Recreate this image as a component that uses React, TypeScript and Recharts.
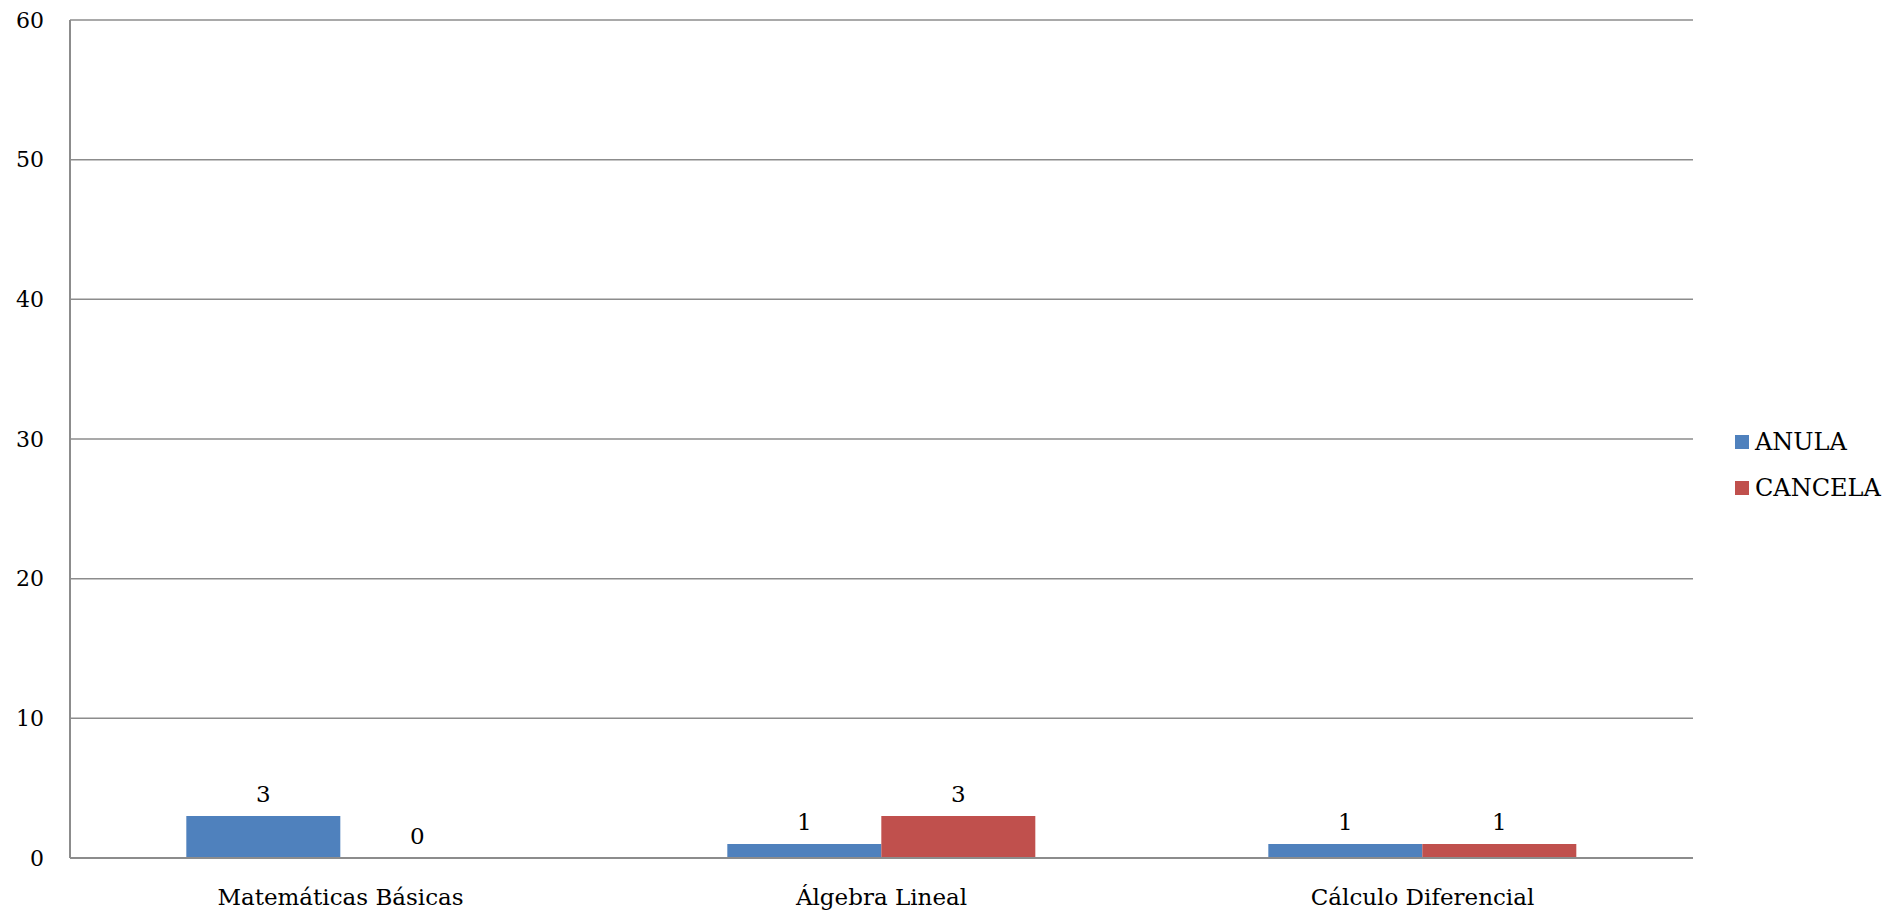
import { BarChart, Bar, XAxis, YAxis, CartesianGrid, Legend, LabelList } from 'recharts'

const categories = ['Matemáticas Básicas', 'Álgebra Lineal', 'Cálculo Diferencial']
const anula = [3, 1, 1]
const cancela = [0, 3, 1]
const yTicks = [0, 10, 20, 30, 40, 50, 60]

const FONT = '"DejaVu Serif", "Liberation Serif", serif'

const chartData = categories.map((name, i) => ({
  name,
  ANULA: anula[i],
  CANCELA: cancela[i],
}))

const seriesColors: Record<string, string> = {
  ANULA: '#4F81BD',
  CANCELA: '#C0504D',
}

function LegendBox() {
  return (
    <div style={{ fontFamily: FONT, fontSize: 24, color: '#000' }}>
      {Object.keys(seriesColors).map((key) => (
        <div key={key} style={{ display: 'flex', alignItems: 'center', height: 46 }}>
          <span style={{ width: 14, height: 14, background: seriesColors[key], marginRight: 6 }} />
          <span>{key}</span>
        </div>
      ))}
    </div>
  )
}

const labelStyle = { fill: '#000', fontFamily: FONT, fontSize: 23 }

export default function App() {
  return (
    <div style={{ position: 'absolute', left: 0, top: 0, background: '#fff' }}>
      <BarChart
        width={1883}
        height={914}
        data={chartData}
        margin={{ top: 20, right: 42, left: 0, bottom: 26 }}
        barCategoryGap="21.5%"
        barGap={0}
      >
        <CartesianGrid vertical={false} stroke="#8c8c8c" strokeWidth={1.5} />
        <XAxis
          dataKey="name"
          axisLine={{ stroke: '#8c8c8c', strokeWidth: 2 }}
          tickLine={false}
          tickSize={0}
          tickMargin={31}
          tick={{ fill: '#000', fontFamily: FONT, fontSize: 23 }}
        />
        <YAxis
          domain={[0, 60]}
          ticks={yTicks}
          width={70}
          axisLine={{ stroke: '#8c8c8c', strokeWidth: 2 }}
          tickLine={false}
          tickSize={0}
          tickMargin={26}
          tick={{ fill: '#000', fontFamily: FONT, fontSize: 22 }}
        />
        <Legend
          layout="vertical"
          align="right"
          verticalAlign="middle"
          content={() => <LegendBox />}
          wrapperStyle={{ left: 1735, top: 419, width: 148 }}
        />
        <Bar dataKey="ANULA" fill={seriesColors.ANULA} minPointSize={0.5} isAnimationActive={false}>
          <LabelList dataKey="ANULA" position="top" offset={14} style={labelStyle} />
        </Bar>
        <Bar dataKey="CANCELA" fill={seriesColors.CANCELA} minPointSize={0.5} isAnimationActive={false}>
          <LabelList dataKey="CANCELA" position="top" offset={14} style={labelStyle} />
        </Bar>
      </BarChart>
    </div>
  )
}
